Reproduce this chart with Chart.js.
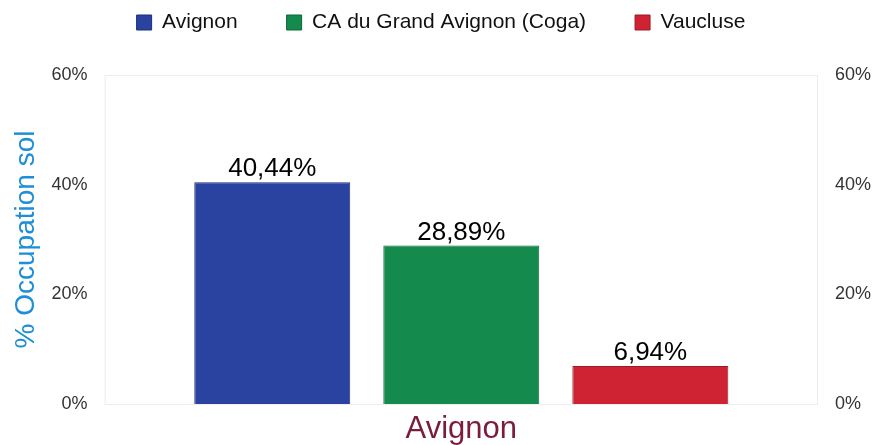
<!DOCTYPE html>
<html>
<head>
<meta charset="utf-8">
<script src="https://cdn.jsdelivr.net/npm/chart.js@4"></script>
<style>
  body { margin: 0; background: #fff; }
  #wrap { width: 875px; height: 445px; }
</style>
</head>
<body>
<div id="wrap"><canvas id="chart" width="875" height="445"></canvas></div>
<script>
// Occupation du sol - Avignon
const categories = ['Avignon'];
const seriesNames = ['Avignon', 'CA du Grand Avignon (Coga)', 'Vaucluse'];
const seriesValues = [[40.44], [28.89], [6.94]];
const fillColors = ['#2a43a0', '#148a4c', '#cf2333'];
const edgeColors = ['#1c2f78', '#0d6636', '#9a1a26'];
const yTicks = [0, 20, 40, 60];

const fontFamily = '"Liberation Sans", Arial, sans-serif';
const legendPad = 49;

function frLabel(v) {
    return v.toFixed(2).replace('.', ',') + '%';
}

const datasets = seriesNames.map(function(name, i) {
    return {
        label: name,
        data: seriesValues[i],
        backgroundColor: fillColors[i],
        borderColor: edgeColors[i],
        borderWidth: 1,
        categoryPercentage: 0.795,
        barPercentage: 0.825
    };
});

// labels above bars, faint frame round the plot, legend pulled up
const extras = {
    id: 'extras',
    afterLayout: function(chart) {
        const lg = chart.legend;
        if (!lg) return;
        const dy = lg.top + legendPad - 12;
        lg.top -= dy;
        lg.bottom -= dy;
    },
    beforeDatasetsDraw: function(chart) {
        const a = chart.chartArea;
        const ctx = chart.ctx;
        ctx.save();
        ctx.strokeStyle = '#ececec';
        ctx.lineWidth = 1;
        ctx.strokeRect(a.left + 0.5, a.top + 0.5, a.right - a.left - 1, a.bottom - a.top);
        ctx.restore();
    },
    afterDatasetsDraw: function(chart) {
        const ctx = chart.ctx;
        ctx.save();
        ctx.font = '26px ' + fontFamily;
        ctx.fillStyle = '#000';
        ctx.textAlign = 'center';
        ctx.textBaseline = 'alphabetic';
        chart.data.datasets.forEach(function(ds, i) {
            chart.getDatasetMeta(i).data.forEach(function(bar, j) {
                ctx.fillText(frLabel(ds.data[j]), bar.x, bar.y - 6);
            });
        });
        ctx.restore();
    }
};

const tickList = function(axis) {
    axis.ticks = yTicks.map(function(v) { return { value: v }; });
};

new Chart(document.getElementById('chart').getContext('2d'), {
    type: 'bar',
    data: { labels: categories, datasets: datasets },
    options: {
        responsive: false,
        animation: false,
        layout: { padding: { left: 7, right: 0, top: -5, bottom: 0 } },
        plugins: {
            legend: {
                position: 'top',
                labels: {
                    color: '#111',
                    font: { family: fontFamily, size: 21 },
                    boxWidth: 15,
                    boxHeight: 15,
                    padding: legendPad
                }
            },
            tooltip: { enabled: false }
        },
        scales: {
            x: {
                grid: { display: false, drawTicks: true, tickLength: 9 },
                border: { display: false },
                ticks: {
                    color: '#7b1c3c',
                    font: { family: fontFamily, size: 31, lineHeight: 1 },
                    padding: 0.5
                }
            },
            y: {
                min: 0,
                max: 60,
                afterBuildTicks: tickList,
                grid: { display: false, drawTicks: true, tickLength: 9 },
                border: { display: false },
                ticks: {
                    color: '#333',
                    font: { family: fontFamily, size: 18 },
                    padding: 8,
                    callback: function(v) { return v + '%'; }
                },
                title: {
                    display: true,
                    text: '% Occupation sol',
                    color: '#1e8ed6',
                    font: { family: fontFamily, size: 28 },
                    padding: { top: 2, bottom: 1 }
                }
            },
            y2: {
                position: 'right',
                min: 0,
                max: 60,
                afterBuildTicks: tickList,
                grid: { display: false, drawTicks: true, tickLength: 13 },
                border: { display: false },
                ticks: {
                    color: '#333',
                    font: { family: fontFamily, size: 18 },
                    padding: 4,
                    callback: function(v) { return v + '%'; }
                }
            }
        }
    },
    plugins: [extras]
});
</script>
</body>
</html>
